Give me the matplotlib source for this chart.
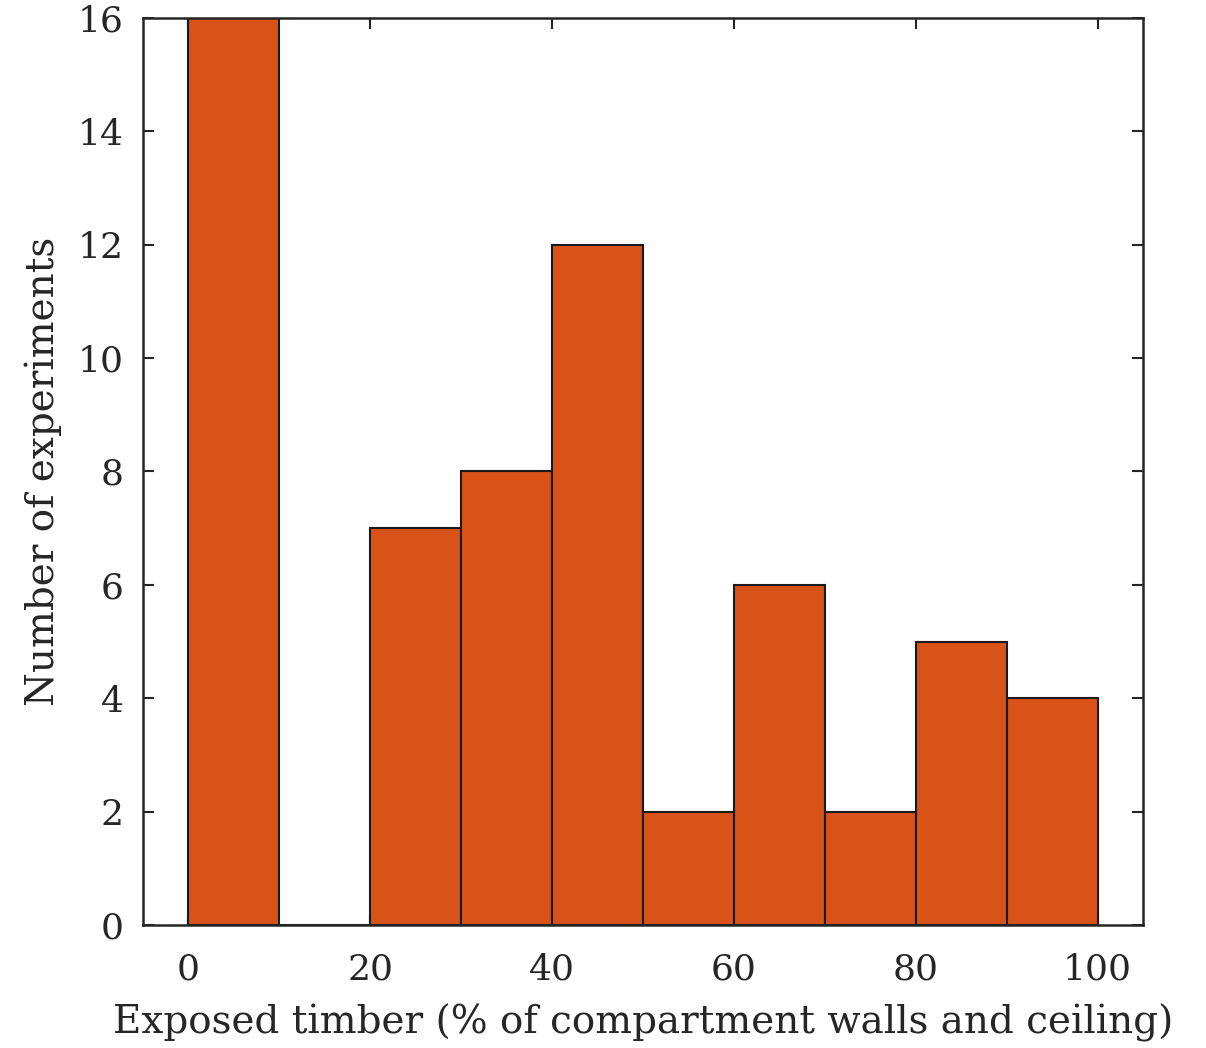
import matplotlib
matplotlib.use("Agg")
import matplotlib.pyplot as plt
import numpy as np

plt.rcParams["font.family"] = ["DejaVu Serif"]

bin_edges = [0, 10, 20, 30, 40, 50, 60, 70, 80, 90, 100]
counts = [16, 0, 7, 8, 12, 2, 6, 2, 5, 4]
x_ticks = [0, 20, 40, 60, 80, 100]
y_ticks = [0, 2, 4, 6, 8, 10, 12, 14, 16]

text_color = "#262626"
bar_color = "#D95319"

fig = plt.figure(figsize=(12.06, 10.48), dpi=100)
ax = fig.add_axes([0.1186, 0.1174, 0.8292, 0.8654])

edges = np.array(bin_edges)
widths = np.diff(edges)
ax.bar(edges[:-1], counts, width=widths, align="edge", color=bar_color,
       edgecolor="#1a1a1a", linewidth=1.5, zorder=3)

ax.set_xlim(-5, 105)
ax.set_ylim(0, 16)
ax.set_xticks(x_ticks)
ax.set_yticks(y_ticks)
ax.tick_params(direction="in", top=True, right=True, length=8, width=1.5,
               labelsize=26, colors=text_color)
ax.tick_params(axis="x", pad=20)
ax.tick_params(axis="y", pad=14)
for s in ax.spines.values():
    s.set_linewidth(1.8)
    s.set_color(text_color)
    s.set_zorder(4)

ax.set_xlabel("Exposed timber (% of compartment walls and ceiling)",
              fontsize=28, color=text_color, labelpad=12)
ax.set_ylabel("Number of experiments", fontsize=28, color=text_color, labelpad=11)

fig.savefig("out.png", dpi=100)
